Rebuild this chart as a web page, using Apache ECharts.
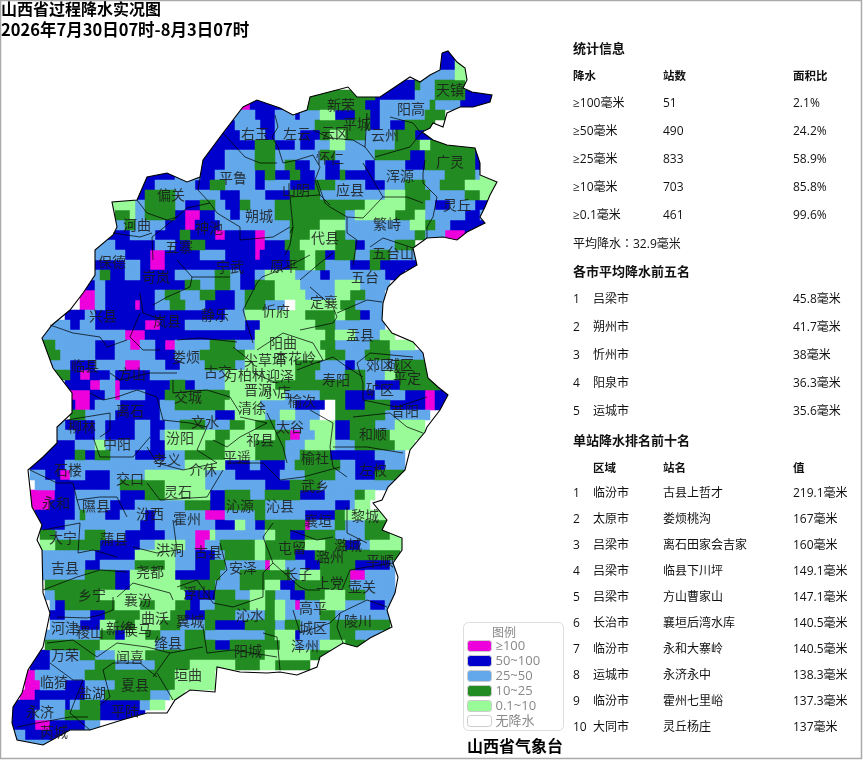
<!DOCTYPE html>
<html>
<head>
<meta charset="utf-8">
<title>山西省过程降水实况图</title>
<style>html,body{margin:0;padding:0;background:#fff}#chart{width:863px;height:760px}</style>
<script src="https://cdn.jsdelivr.net/npm/echarts@6/dist/echarts.min.js"></script>
</head>
<body>
<div id="chart"></div>
<script>
const titleLines = ['山西省过程降水实况图', '2026年7月30日07时-8月3日07时'];
const issuer = '山西省气象台';

// rainfall classes, strongest first
const classKeys = ['m', 'd', 'b', 'g', 'l', 'w'];
const classNames = ['≥100', '50~100', '25~50', '10~25', '0.1~10', '无降水'];
const classColors = ['#ee00dd', '#0000cc', '#62a8ea', '#228b22', '#98fb98', '#ffffff'];

// one line per 10px row of the map: class letter + where its run ends, in 1/15 column units
const rainRows = [
  '.1320 d1380',
  '.1300 d1360 l1410',
  '.1270 b1360 l1410',
  '.1150 d1240 g1260 b1310 g1400',
  '.920 g1130 d1240 b1310 g1390 d1490',
  '.720 m750 d860 .900 g1100 d1140 b1290 g1300 b1380 d1480',
  '.690 b760 d830 b880 d905 b960 l1010 d1060 g1110 d1140 b1280 g1340',
  '.670 d700 b780 d830 b940 g1110 d1135 b1170 d1210 g1300',
  '.640 d720 b790 d830 b900 d960 g990 l1040 g1100 b1190 g1250 d1310',
  '.620 d770 g820 d880 b905 d950 b990 l1030 b1180 g1255 l1285 g1425',
  '.600 d680 b760 g830 b960 g1000 b1130 g1230 d1270 g1420 d1450',
  '.600 d670 b770 g820 b860 g890 d930 b970 d1020 b1090 d1130 b1220 d1270 g1430 d1450',
  '.430 d520 b600 d640 b760 d790 g820 d870 g900 d940 b970 d1020 g1040 d1130 b1340 g1420 b1440 l1500',
  '.420 d470 b590 d630 g680 b760 d800 b870 d940 g1000 b1090 d1160 b1220 g1280 b1320 g1390 l1500',
  '.400 d440 g530 b660 d720 b800 d870 g960 b1150 l1220 g1290 b1390 g1440 l1490',
  '.330 l400 b430 g520 b560 d600 g640 b680 d720 g750 b830 g1100 l1220 g1280 b1310 d1350 b1430 d1480',
  '.340 g385 l410 b440 g520 d550 m600 d640 b690 d720 b830 g1030 b1070 l1190 g1240 l1280 b1400 d1440 b1470',
  '.340 b380 g410 b490 d560 m590 d660 b870 g960 l1030 b1230 l1280 g1300 b1350 d1450',
  '.320 d390 b470 d540 g570 d650 m670 d770 m800 b870 g930 l1000 g1040 b1240 g1280 b1330 m1400 d1440',
  '.280 b340 d470 b530 d570 g610 d770 m800 d850 g900 l1000 g1070 d1090 b1180 g1240',
  '.280 b370 d450 m500 d600 b680 d770 m780 d870 g910 l940 g970 d1010 g1060 b1110 g1170 b1250',
  '.280 d380 b420 d450 m490 d870 g910 l940 g970 b1050 d1110 g1140 d1260',
  '.270 b300 g330 d380 b420 d530 b650 g690 b720 d770 b800 l880 b960 d990 b1150 d1210',
  '.250 d280 b320 d550 g600 b640 g690 b720 d770 g820 l900 b1000 l1080 b1170',
  '.240 m280 b320 d460 b500 g540 b600 g640 d700 b740 g830 l920 b1010 l1050 g1090 b1160',
  '.240 m280 b320 d400 m415 d470 b510 g550 b620 d700 b740 g790 b860 w890 l1020 g1060 b1150',
  '.200 d250 b280 d670 b740 l920 g1010 l1040 g1080 d1110 b1150',
  '.140 b215 d240 b280 d430 m480 d560 b740 d780 l940 g1000 b1160',
  '.120 b380 m430 d770 l970 g1010 l1060 b1140 l1190',
  '.120 g170 b290 d350 b390 m420 b470 d490 m530 b630 g700 b760 l960 g1000 b1110 g1170 l1250',
  '.120 g180 b290 d340 b470 d520 b600 g730 l970 g1030 b1100 g1170 b1280',
  '.150 b210 d280 b380 m420 b490 d540 b620 g700 b740 l890 g960 b1030 d1070 b1190 g1300',
  '.160 g210 d235 m270 d330 b350 d450 b680 l880 g950 b1040 g1090 b1150 l1180 g1300',
  '.190 d265 m295 b350 m365 d510 g550 d590 b680 l830 g1090 b1130 d1200 g1320',
  '.210 m270 d310 b350 m365 b440 d500 g690 l850 b960 g1040 d1130 b1220 d1270 m1310 d1350',
  '.210 d230 m265 d290 b360 d480 b530 g680 l780 b880 d970 w1000 g1040 d1100 g1170 d1275 m1305 d1340',
  '.210 g250 b340 d480 b640 d700 l790 b840 l880 b960 w1000 g1160 b1290',
  '.165 b200 d280 b320 d400 b450 d490 b540 g620 b690 g740 l770 g830 b930 l1000 d1050 g1130 b1190 l1280',
  '.165 b230 d280 b310 d410 b450 d480 b500 l640 g690 l820 g870 m905 b950 l1000 d1050 g1170 l1280',
  '.140 d230 b290 l310 b450 d490 l610 g670 l770 g860 b920 l1000 b1060 g1190 l1250',
  '.120 d220 g260 d290 g330 b410 d490 b560 g680 l770 g850 b900 g990 d1130 b1220',
  '.85 d190 b560 l680 d750 b780 d850 b880 g1020 b1060 d1160 b1220',
  '.85 b130 d180 m215 b250 d330 b440 l610 b700 d840 b910 g1000 b1060 d1130 g1220',
  '.100 b170 d330 b360 g500 l620 b800 d870 g960 b1220',
  '.95 m165 d225 b365 d430 g500 l630 d680 g750 b800 g900 d980 b1060 g1090 l1130',
  '.95 m150 d220 b330 d400 b560 g630 d670 g800 b1010 d1050 b1060 l1110',
  '.110 d220 b240 g260 b320 d360 b430 d470 b620 m680 b770 g800 b910 d1000 g1030 l1160',
  '.120 d190 b420 d460 b640 d700 l740 b770 d800 g910 m935 b1000 g1040 b1100 g1170',
  '.120 g160 b250 g310 b380 d500 b590 m635 l650 b790 l830 g870 d910 g1010 b1100 g1170 l1210',
  '.115 l160 g300 d420 b470 l550 b585 m620 b660 g760 l800 g920 l970 g1040 d1080 b1110 l1210',
  '.110 b290 d410 l530 b590 d640 b680 g760 l790 g880 d950 g1200',
  '.110 b250 d300 b410 g500 l530 b580 d630 g680 b790 m815 l860 b920 d960 g1060 d1170 b1200',
  '.110 b250 g350 d385 l530 d630 g660 b720 g870 b900 l960 g1050 m1090 b1190',
  '.130 g350 d385 l540 g640 b720 g790 l840 d890 g1050 b1190',
  '.140 b170 g300 l560 d650 g700 b750 l790 g820 b870 d910 g980 l1040 g1100 b1180',
  '.150 b170 d195 g350 l420 g470 l520 g570 d600 b640 g750 l790 g830 l860 b885 m905 b960 l1030 b1110 d1155 b1180',
  '.150 d195 b270 d310 g420 l510 g560 d610 g710 b790 g820 l860 b960 g1010 b1170',
  '.150 b240 d300 l350 g400 l480 g540 b610 g650 d730 g820 b850 g900 b990 g1170',
  '.140 b300 g350 d370 l440 g480 b560 g620 b790 g830 l880 d905 b990 g1060 b1150',
  '.130 g300 l470 b550 g640 d690 g840 l880 b960 l1040 g1100',
  '.110 d150 b240 g290 b350 l440 g800 l930 g1000',
  '.90 d150 b280 g350 b470 g570 l700 g780 l830 g930',
  '.80 m105 b250 g520 l650',
  '.70 m125 b200 d250 b340 g530 l650',
  '.55 m110 d250 b310 g450 b510 l560',
  '.35 d120 b190 d210 b240 g300 d420 b450 l490',
  '.30 d110 b200 g300 d430',
  '.35 d100 m150 d260 b300',
  '.35 b80 d210 b260',
  '.40 b150'
];

// province outline, clockwise from the Tianzhen tip
const outline = [[442,53],[448,51],[457,62],[465,68],[467,80],[463,88],[472,92],[492,95],[490,102],[473,107],[460,107],[447,113],[443,127],[433,123],[430,128],[422,132],[433,140],[447,145],[475,148],[480,163],[480,175],[497,182],[490,195],[485,207],[480,217],[485,223],[467,232],[457,240],[443,237],[427,238],[413,248],[417,265],[400,275],[388,287],[383,303],[382,320],[392,333],[413,342],[423,353],[428,378],[438,387],[448,395],[440,410],[427,427],[425,432],[410,450],[405,470],[388,487],[382,500],[373,503],[387,520],[382,530],[402,538],[402,550],[393,563],[398,577],[395,593],[387,610],[392,627],[370,638],[357,647],[343,643],[320,657],[317,667],[297,675],[280,672],[267,673],[240,672],[217,667],[215,692],[190,690],[175,700],[167,713],[147,713],[122,720],[90,730],[70,730],[43,745],[17,740],[12,723],[13,707],[22,693],[28,670],[43,647],[50,613],[43,593],[42,550],[37,540],[42,525],[32,507],[28,470],[43,457],[57,443],[57,427],[72,413],[72,393],[53,368],[42,338],[52,325],[70,310],[83,293],[95,275],[95,250],[113,235],[117,227],[112,202],[137,200],[147,177],[167,173],[187,182],[200,177],[203,160],[223,133],[243,107],[257,100],[280,108],[293,115],[307,110],[310,97],[348,87],[357,97],[380,97],[410,77],[420,82],[430,75],[440,70]];

// county borders
const borders = [
  [[275,115],[278,127],[272,137],[278,147],[283,163]],
  [[223,133],[245,157],[260,163],[277,163]],
  [[283,163],[297,160],[313,155],[320,167],[315,180],[320,195],[330,205]],
  [[313,130],[330,138],[353,140],[365,147]],
  [[367,113],[365,147],[375,160]],
  [[375,157],[410,147],[422,132]],
  [[390,117],[413,123],[420,132]],
  [[425,160],[423,173],[423,183],[437,197],[433,217],[427,227],[427,238]],
  [[363,163],[383,197],[407,197],[423,203]],
  [[317,180],[325,203],[330,207],[347,217],[363,218],[383,197]],
  [[290,197],[293,227],[290,233]],
  [[290,197],[320,195]],
  [[210,203],[217,213],[240,227],[240,240],[273,237],[290,227]],
  [[200,177],[198,190],[210,203],[187,208],[177,217],[157,233],[152,237],[153,260]],
  [[137,200],[147,213],[167,220],[177,217]],
  [[113,233],[140,237],[152,233]],
  [[347,217],[347,233],[357,240],[353,265]],
  [[370,247],[383,238],[413,248]],
  [[293,227],[290,245],[285,255]],
  [[257,283],[262,277],[285,268],[310,255]],
  [[300,280],[320,263],[333,253]],
  [[310,287],[333,307],[337,317],[333,323],[300,330]],
  [[337,313],[367,300],[382,302]],
  [[192,277],[190,287],[167,297],[153,305]],
  [[177,260],[192,277],[230,277]],
  [[257,283],[243,310],[253,343]],
  [[140,293],[143,313],[163,320]],
  [[50,325],[73,333],[100,337],[107,347],[127,340]],
  [[140,313],[130,337],[143,350],[160,350]],
  [[177,340],[200,338],[237,342]],
  [[233,347],[253,363],[253,373],[277,383]],
  [[257,350],[283,333],[313,343],[323,360],[297,370]],
  [[317,363],[333,357],[347,367],[363,377]],
  [[357,363],[370,353],[413,357]],
  [[357,363],[363,383],[363,400]],
  [[363,400],[397,407],[427,397]],
  [[110,373],[120,380],[150,373],[177,373]],
  [[173,380],[173,393],[207,390],[230,397],[240,413]],
  [[90,393],[103,400],[117,397],[137,390],[157,397],[163,420]],
  [[67,420],[110,413],[110,430],[100,437]],
  [[93,437],[100,457],[133,457],[150,437]],
  [[163,420],[190,423],[207,427],[197,450],[217,463]],
  [[240,417],[267,423],[240,437],[227,447],[213,440]],
  [[267,413],[283,447],[287,463]],
  [[310,410],[333,423],[330,447],[333,467],[347,477]],
  [[353,417],[390,413],[407,427],[423,433]],
  [[333,447],[367,447],[403,453]],
  [[227,463],[263,463],[280,480],[303,477],[340,467]],
  [[147,447],[157,463],[183,470],[217,463]],
  [[147,483],[160,500],[207,497],[223,470]],
  [[30,470],[57,483],[73,483],[77,500],[80,510]],
  [[77,500],[100,497],[117,497],[127,517]],
  [[43,530],[80,523],[78,553],[93,550],[117,557]],
  [[43,590],[77,577],[100,570],[127,572]],
  [[57,617],[87,618],[100,615],[113,610],[113,597]],
  [[117,597],[133,583],[170,593],[173,600]],
  [[133,547],[157,553],[177,550],[173,520]],
  [[177,587],[197,580],[213,603],[233,607]],
  [[220,543],[227,570],[217,580],[213,600]],
  [[233,607],[263,597],[263,573],[273,563],[263,537],[273,523]],
  [[203,627],[207,653],[233,650],[277,657]],
  [[263,633],[277,637],[280,670]],
  [[293,610],[300,633],[330,623],[340,613]],
  [[273,563],[300,587],[307,590],[320,590]],
  [[340,613],[337,627],[343,643]],
  [[340,613],[367,600],[387,607]],
  [[343,587],[350,570],[367,567],[393,563]],
  [[290,530],[317,540],[333,537]],
  [[347,507],[347,533],[367,543]],
  [[47,643],[73,640],[97,657],[117,643],[147,647],[170,653],[203,647]],
  [[153,677],[170,653]],
  [[157,673],[173,700]],
  [[103,670],[113,663],[140,663],[157,677]],
  [[73,680],[83,680],[70,713],[90,730]],
  [[50,663],[73,680]],
  [[103,670],[110,697],[100,705]],
  [[17,727],[37,723],[70,717],[88,717]]
];

const countyNames = ['天镇','新荣','阳高','平城','右玉','左云','云冈','云州','怀仁','广灵','浑源','平鲁','山阴','应县','偏关','灵丘','朔城','繁峙','河曲','神池','代县','五寨','五台山','保德','宁武','原平','五台','岢岚','忻府','定襄','兴县','静乐','岚县','盂县','阳曲','娄烦','尖草坪','杏花岭','临县','郊区','城区','平定','古交','万柏林','迎泽','晋源','小店','方山','矿区','寿阳','榆次','交城','清徐','昔阳','离石','文水','柳林','太谷','祁县','和顺','中阳','汾阳','平遥','榆社','孝义','左权','介休','石楼','交口','武乡','灵石','永和','沁源','沁县','隰县','汾西','霍州','黎城','襄垣','大宁','蒲县','潞城','屯留','洪洞','古县','潞州','平顺','吉县','安泽','尧都','长子','上党','壶关','乡宁','浮山','襄汾','高平','沁水','陵川','曲沃','翼城','河津','稷山','新绛','侯马','城区','绛县','泽州','阳城','万荣','闻喜','垣曲','临猗','夏县','盐湖','永济','平陆','芮城'];
const countyX = [450,341,411,357,255,297,335,385,330,450,400,233,296,350,171,457,259,387,137,209,325,179,393,112,230,284,365,156,276,324,103,215,167,360,283,186,265,295,85,380,400,407,218,245,280,258,277,132,380,336,302,188,252,405,130,205,82,290,260,373,117,180,237,315,167,373,203,68,130,315,178,56,240,280,96,150,187,365,318,63,114,348,292,170,208,330,380,65,243,150,298,330,362,92,197,138,313,250,358,155,190,65,90,120,138,313,168,305,248,65,130,188,54,135,92,40,125,54];
const countyY = [90,105,109,124,134,134,133,135,158,162,176,178,190,190,195,205,216,224,225,228,238,247,253,262,267,266,277,277,311,302,316,315,321,335,343,357,360,358,366,365,365,378,372,375,376,390,392,374,390,380,401,397,408,411,411,422,427,427,440,434,444,438,457,458,460,470,470,470,479,486,492,503,506,506,506,514,519,516,521,538,539,545,548,550,552,557,561,568,568,572,574,583,587,595,593,600,608,615,621,618,621,628,632,628,630,628,643,646,651,655,657,675,682,685,693,712,711,732];

const statHeader = ['降水', '站数', '面积比'];
const statLevels = ['≥100毫米', '≥50毫米', '≥25毫米', '≥10毫米', '≥0.1毫米'];
const statStations = ['51', '490', '833', '703', '461'];
const statArea = ['2.1%', '24.2%', '58.9%', '85.8%', '99.6%'];
const avgRain = '平均降水：32.9毫米';

const cityNames = ['吕梁市', '朔州市', '忻州市', '阳泉市', '运城市'];
const cityRain = ['45.8毫米', '41.7毫米', '38毫米', '36.3毫米', '35.6毫米'];

const stationHeader = ['区域', '站名', '值'];
const stationRegion = ['临汾市', '太原市', '吕梁市', '吕梁市', '吕梁市', '长治市', '临汾市', '运城市', '临汾市', '大同市'];
const stationName = ['古县上哲才', '娄烦桃沟', '离石田家会吉家', '临县下川坪', '方山曹家山', '襄垣后湾水库', '永和大寨岭', '永济永中', '霍州七里峪', '灵丘杨庄'];
const stationRain = ['219.1毫米', '167毫米', '160毫米', '149.1毫米', '147.1毫米', '140.5毫米', '140.5毫米', '138.3毫米', '137.3毫米', '137毫米'];

const CJK = '"Noto Sans CJK SC", sans-serif';
const FONT = '"Open Sans", ' + CJK;
const COLS = 100, COL_UNIT = 15;

// expand rainRows into one [col,row,1] list per class
function decodeRows() {
  const cells = {};
  classKeys.forEach(k => { cells[k] = []; });
  rainRows.forEach((line, row) => {
    let col = 0;
    line.split(' ').forEach(tok => {
      const key = tok[0];
      const end = Math.round(parseInt(tok.slice(1), 10) / COL_UNIT);
      for (; col < end && col < COLS; col++) {
        if (cells[key]) cells[key].push([col, row, 1]);
      }
    });
  });
  return cells;
}
const cells = decodeRows();

const heatSeries = classKeys.map((k, i) => ({
  type: 'heatmap',
  name: classNames[i],
  xAxisIndex: 0,
  yAxisIndex: 0,
  data: cells[k],
  itemStyle: { color: classColors[i] },
  emphasis: { disabled: true },
  silent: true,
  progressive: 0,
  z: 2
}));

// Open Sans sits a little high in the box, hence the 1.5px nudge
const txt = (x, y, text, size, bold, color, family) => ({
  type: 'text',
  x: x,
  y: family === CJK ? y : y + 1.5,
  z: 100,
  silent: true,
  style: {
    text: text,
    fill: color || '#111',
    font: (bold ? 'bold ' : '') + size + 'px ' + (family || FONT),
    textVerticalAlign: 'middle'
  }
});

const graphics = [
  { type: 'rect', z: 110, silent: true, shape: { x: 0.5, y: 0.5, width: 861, height: 758 }, style: { fill: 'none', stroke: '#aaa', lineWidth: 1.5 } },
  { type: 'rect', z: 4, silent: true, shape: { x: 463.5, y: 622.5, width: 100, height: 108, r: 5 }, style: { fill: '#fff', stroke: '#ddd', lineWidth: 1 } },
  txt(492, 632, '图例', 12, false, '#888', CJK),
  txt(1, 9, titleLines[0], 16, true, '#000', CJK),
  txt(1, 30, titleLines[1], 16.5, true, '#000', CJK),
  txt(467, 746, issuer, 16, true, '#000', CJK),
  txt(573, 48, '统计信息', 13, true),
  txt(573, 75, statHeader[0], 11.5, true),
  txt(663, 75, statHeader[1], 11.5, true),
  txt(793, 75, statHeader[2], 11.5, true),
  txt(573, 243, avgRain, 12, false, '#111', '"Open Sans", "Noto Sans CJK TC", sans-serif'),
  txt(573, 271, '各市平均降水前五名', 13, true),
  txt(573, 440, '单站降水排名前十名', 13, true),
  txt(593, 467, stationHeader[0], 11.5, true),
  txt(663, 467, stationHeader[1], 11.5, true),
  txt(793, 467, stationHeader[2], 11.5, true)
];
statLevels.forEach((s, i) => {
  const y = 102 + i * 28;
  graphics.push(txt(573, y, s, 12), txt(663, y, statStations[i], 12), txt(793, y, statArea[i], 12));
});
cityNames.forEach((s, i) => {
  const y = 298 + i * 28;
  graphics.push(txt(573, y, String(i + 1), 12), txt(593, y, s, 12), txt(793, y, cityRain[i], 12));
});
stationRegion.forEach((s, i) => {
  const y = 492.5 + i * 25.9;
  graphics.push(txt(573, y, String(i + 1), 12), txt(593, y, s, 12), txt(663, y, stationName[i], 12), txt(793, y, stationRain[i], 12));
});

const chart = echarts.init(document.getElementById('chart'), null, { renderer: 'canvas' });
chart.setOption({
  animation: false,
  backgroundColor: '#fff',
  tooltip: { show: false },
  grid: [
    { left: 0, top: 50, width: 500, height: 700 },
    { left: 0, top: 50, width: 500, height: 700 }
  ],
  xAxis: [
    { type: 'category', show: false, gridIndex: 0, data: Array.from({ length: COLS }, (_, i) => i) },
    { type: 'value', show: false, gridIndex: 1, min: 0, max: 500 }
  ],
  yAxis: [
    { type: 'category', show: false, gridIndex: 0, inverse: true, data: rainRows.map((_, i) => i) },
    { type: 'value', show: false, gridIndex: 1, inverse: true, min: 50, max: 750 }
  ],
  legend: {
    left: 463,
    top: 639.5,
    z: 5,
    orient: 'vertical',
    selectedMode: false,
    padding: [0, 0, 0, 4],
    itemWidth: 24,
    itemHeight: 11,
    itemGap: 2,
    icon: 'roundRect',
    itemStyle: { borderColor: '#ccc', borderWidth: 1 },
    textStyle: { color: '#888', fontSize: 13, lineHeight: 12, fontFamily: FONT, padding: [0, 0, 0, -1] },
    data: classNames
  },
  graphic: graphics,
  series: heatSeries.concat([
    {
      // white mask outside the province so the cell edges follow the outline
      type: 'custom',
      xAxisIndex: 1,
      yAxisIndex: 1,
      z: 3,
      silent: true,
      clip: false,
      data: [[0, 50]],
      renderItem: function (params, api) {
        const tl = api.coord([0, 46]), br = api.coord([504, 754]);
        let d = 'M' + tl[0] + ',' + tl[1] + 'L' + br[0] + ',' + tl[1] + 'L' + br[0] + ',' + br[1] + 'L' + tl[0] + ',' + br[1] + 'Z';
        outline.slice().reverse().forEach((p, i) => {
          const c = api.coord(p);
          d += (i ? 'L' : 'M') + c[0] + ',' + c[1];
        });
        d += 'Z';
        return {
          type: 'path',
          shape: { pathData: d, x: tl[0], y: tl[1], width: br[0] - tl[0], height: br[1] - tl[1], layout: 'cover' },
          style: { fill: '#fff' }
        };
      }
    },
    {
      type: 'lines',
      coordinateSystem: 'cartesian2d',
      xAxisIndex: 1,
      yAxisIndex: 1,
      polyline: true,
      silent: true,
      z: 4,
      lineStyle: { color: '#000', width: 0.8, opacity: 0.9 },
      data: borders.map(b => ({ coords: b })).concat([{ coords: outline.concat([outline[0]]), lineStyle: { width: 1.1, color: '#000', opacity: 1 } }])
    },
    {
      type: 'scatter',
      xAxisIndex: 1,
      yAxisIndex: 1,
      symbolSize: 0,
      silent: true,
      z: 6,
      label: {
        show: true,
        position: 'inside',
        formatter: p => countyNames[p.dataIndex],
        fontFamily: CJK,
        fontSize: 14,
        color: '#1a1a1a',
        opacity: 0.85
      },
      data: countyX.map((x, i) => [x, countyY[i]])
    }
  ])
});
</script>
</body>
</html>
